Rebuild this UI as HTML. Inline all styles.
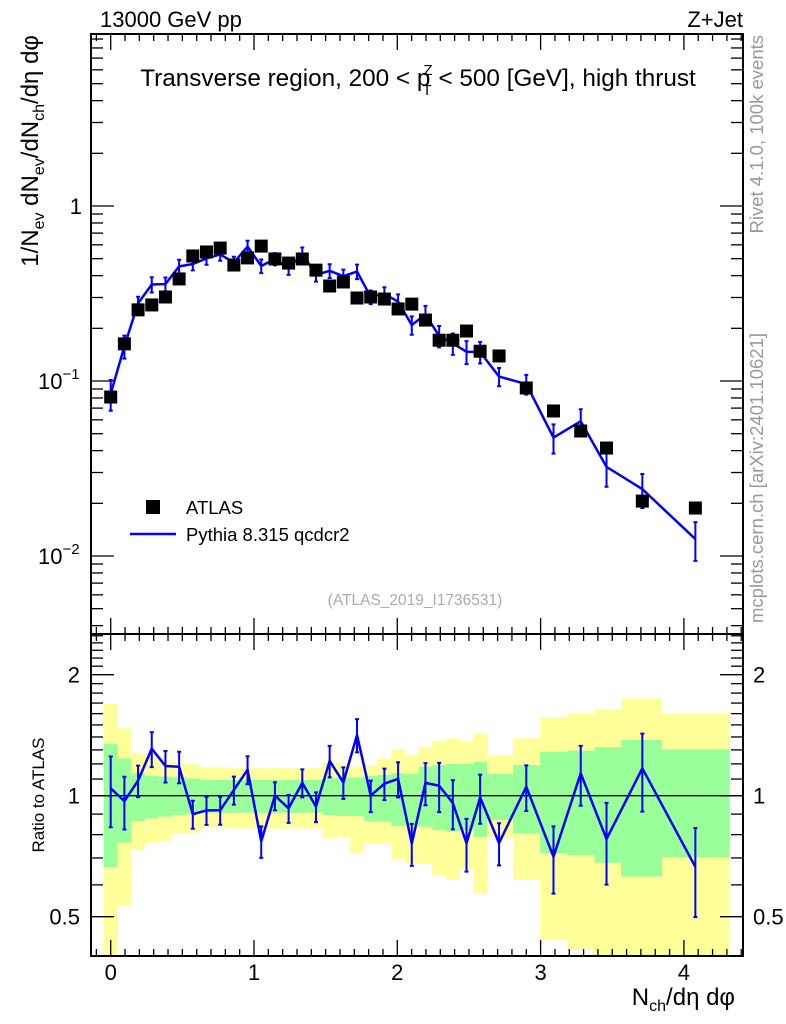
<!DOCTYPE html>
<html><head><meta charset="utf-8"><style>
html,body{margin:0;padding:0;background:#fff;}
svg{display:block;font-family:"Liberation Sans",sans-serif;}
</style></head><body>
<svg id="c" width="786" height="1024" viewBox="0 0 786 1024" xmlns="http://www.w3.org/2000/svg">
<text x="100" y="27" font-size="22">13000 GeV pp</text>
<text x="743" y="27" font-size="22" text-anchor="end">Z+Jet</text>
<text x="418" y="86" font-size="24.3" text-anchor="middle">Transverse region, 200 &lt; p<tspan font-size="15" dy="-11" dx="-7">Z</tspan><tspan font-size="15" dy="20" dx="-10">T</tspan><tspan dy="-9"> &lt; 500 [GeV], high thrust</tspan></text>
<text transform="translate(38,35) rotate(-90)" font-size="24" text-anchor="end">1/N<tspan font-size="16" dy="6">ev</tspan><tspan dy="-6"> dN</tspan><tspan font-size="16" dy="6">ev</tspan><tspan dy="-6">/dN</tspan><tspan font-size="16" dy="6">ch</tspan><tspan dy="-6">/dη dφ</tspan></text>
<text transform="translate(763,35) rotate(-90)" font-size="18.5" fill="#999" text-anchor="end">Rivet 4.1.0,  100k events</text>
<text transform="translate(763,333) rotate(-90)" font-size="18.5" fill="#999" text-anchor="end">mcplots.cern.ch [arXiv:2401.10621]</text>
<text x="415" y="605" font-size="15.5" fill="#aaa" text-anchor="middle">(ATLAS_2019_I1736531)</text>
<text transform="translate(44,795) rotate(-90)" font-size="17" text-anchor="middle">Ratio to ATLAS</text>
<text x="735" y="1005" font-size="24" text-anchor="end">N<tspan font-size="16" dy="6">ch</tspan><tspan dy="-6">/dη dφ</tspan></text>
<rect x="146" y="500" width="14" height="14" fill="#000"/>
<text x="186" y="514" font-size="18.5">ATLAS</text>
<line x1="130" y1="534" x2="176" y2="534" stroke="#0000ff" stroke-width="2.5"/>
<text x="186" y="541" font-size="18.5">Pythia 8.315 qcdcr2</text>
<g id="g"></g>
</svg>
<script>
const xs=[0,0.0955,0.191,0.2865,0.382,0.4775,0.573,0.6685,0.764,0.8595,0.955,1.0505,1.146,1.2415,1.337,1.4325,1.528,1.6235,1.719,1.8145,1.91,2.0055,2.101,2.1965,2.292,2.3875,2.483,2.578,2.71,2.90,3.09,3.28,3.46,3.71,4.08];
const edges=[-0.048,0.048,0.143,0.239,0.334,0.43,0.525,0.621,0.716,0.812,0.907,1.003,1.098,1.194,1.289,1.385,1.48,1.576,1.671,1.767,1.862,1.958,2.053,2.149,2.244,2.34,2.435,2.531,2.626,2.808,2.997,3.186,3.376,3.561,3.847,4.32];
const atlas=[0.081,0.163,0.255,0.272,0.302,0.383,0.518,0.546,0.575,0.46,0.505,0.59,0.498,0.472,0.498,0.43,0.349,0.368,0.298,0.302,0.294,0.258,0.275,0.223,0.171,0.171,0.193,0.148,0.139,0.0912,0.0674,0.0518,0.0414,0.0206,0.0188];
const mc=[0.0845,0.158,0.278,0.356,0.358,0.452,0.466,0.502,0.529,0.475,0.586,0.454,0.498,0.439,0.536,0.404,0.426,0.397,0.422,0.302,0.315,0.284,0.209,0.240,0.181,0.164,0.147,0.1465,0.106,0.096,0.0475,0.0589,0.0323,0.0241,0.0125];
const mcErr=[0.2,0.15,0.09,0.1,0.09,0.09,0.08,0.08,0.08,0.08,0.08,0.09,0.08,0.08,0.08,0.085,0.09,0.09,0.095,0.09,0.09,0.1,0.12,0.12,0.14,0.14,0.15,0.14,0.12,0.13,0.19,0.17,0.23,0.22,0.25];
const gUp=[1.344,1.238,1.137,1.119,1.115,1.111,1.104,1.094,1.094,1.094,1.094,1.094,1.094,1.094,1.094,1.094,1.104,1.111,1.111,1.119,1.126,1.137,1.132,1.181,1.192,1.199,1.199,1.215,1.132,1.192,1.287,1.294,1.32,1.376,1.304];
const gDn=[0.664,0.764,0.865,0.878,0.887,0.895,0.90,0.907,0.907,0.907,0.907,0.907,0.907,0.907,0.907,0.907,0.895,0.89,0.89,0.865,0.862,0.84,0.845,0.837,0.821,0.814,0.821,0.79,0.87,0.806,0.719,0.712,0.681,0.629,0.703];
const yUp=[1.69,1.47,1.27,1.238,1.227,1.208,1.199,1.176,1.176,1.17,1.17,1.17,1.17,1.17,1.17,1.17,1.208,1.208,1.181,1.192,1.238,1.304,1.262,1.324,1.37,1.389,1.362,1.43,1.262,1.389,1.566,1.597,1.64,1.746,1.60];
const yDn=[0.40,0.532,0.733,0.764,0.773,0.803,0.809,0.834,0.834,0.829,0.829,0.829,0.829,0.829,0.829,0.829,0.783,0.79,0.719,0.761,0.761,0.695,0.679,0.679,0.635,0.617,0.654,0.572,0.79,0.617,0.437,0.415,0.40,0.40,0.40];
const xTicks=[0,1,2,3,4];
const mainTicks=[{v:1,t:"1"},{v:0.1,t:"10",e:"−1"},{v:0.01,t:"10",e:"−2"}];
const ratioTicks=[{v:2,t:"2"},{v:1,t:"1"},{v:0.5,t:"0.5"}];

const L=91,R=743,T=34,MB=634,RB=956;
const X=v=>110.7+143.3*v;
const Ym=v=>206-175*Math.log10(v);
const Yr=v=>Math.min(RB,Math.max(MB,795.7-121*Math.log2(v)));
const g=document.getElementById('g');
const NS='http://www.w3.org/2000/svg';
function mk(tag,at){const e=document.createElementNS(NS,tag);for(const k in at)e.setAttribute(k,at[k]);g.appendChild(e);return e;}

for(let i=0;i<xs.length;i++){
  const x0=X(edges[i]),x1=X(edges[i+1]);
  const y=mk('rect',{x:x0,y:Yr(yUp[i]),width:x1-x0,height:Yr(yDn[i])-Yr(yUp[i]),fill:'#ffff99'});
  
  
}
for(let i=0;i<xs.length;i++){
  const x0=X(edges[i]),x1=X(edges[i+1]);
  const r=mk('rect',{x:x0,y:Yr(gUp[i]),width:x1-x0,height:Yr(gDn[i])-Yr(gUp[i]),fill:'#99ff99'});
  
  
}
const one=mk('line',{x1:L,x2:R,y1:Yr(1),y2:Yr(1),stroke:'#000','stroke-width':1.3});



[[T,MB],[MB,RB]].forEach(([a,b],k)=>{
  const f=mk('rect',{x:L,y:a,width:R-L,height:b-a,fill:'none',stroke:'#000','stroke-width':2});
  
  
});
for(let v=-0.1;v<=4.41;v+=0.1){
  const vv=Math.round(v*10)/10; if(vv<-0.12)continue;
  const x=X(vv); if(x<L||x>R)continue;
  const maj=Math.abs(vv-Math.round(vv))<1e-6;
  const len=maj?16:7;
  [[T,1],[MB,-1],[MB,1],[RB,-1]].forEach(([y0,d])=>mk('line',{x1:x,x2:x,y1:y0,y2:y0+d*len,stroke:'#000','stroke-width':1.3}));
}
xTicks.forEach(v=>{const t=mk('text',{x:X(v),y:980,'font-size':22,'text-anchor':'middle'});t.textContent=v;

});
for(let d=-3;d<=0;d++)for(let m=1;m<=9;m++){
  const v=m*Math.pow(10,d);const y=Ym(v);if(y<T||y>MB)continue;
  const len=m===1?23:12;
  mk('line',{x1:L,x2:L+len,y1:y,y2:y,stroke:'#000','stroke-width':1.3});
  mk('line',{x1:R,x2:R-len,y1:y,y2:y,stroke:'#000','stroke-width':1.3});
}
mainTicks.forEach(o=>{const t=mk('text',{x:82,y:Ym(o.v)+8,'font-size':22,'text-anchor':'end'});
t.textContent=o.t;if(o.e){const s=document.createElementNS(NS,'tspan');s.setAttribute('font-size',15);s.setAttribute('dy',-10);s.textContent=o.e;t.appendChild(s);t.setAttribute('x',38);t.setAttribute('text-anchor','start');}

});
[0.4,0.5,0.6,0.7,0.8,0.9,1,1.1,1.2,1.3,1.4,1.5,1.6,1.7,1.8,1.9,2,2.1,2.2,2.3,2.4,2.5].forEach(v=>{
  const y=Yr(v);if(y<=MB+1||y>=RB-1)return;const maj=[0.5,1,2].includes(v);const len=maj?23:12;
  mk('line',{x1:L,x2:L+len,y1:y,y2:y,stroke:'#000','stroke-width':1.3});
  mk('line',{x1:R,x2:R-len,y1:y,y2:y,stroke:'#000','stroke-width':1.3});
});
ratioTicks.forEach(o=>{[[80,'end'],[753,'start']].forEach(([x,a])=>{const t=mk('text',{x:x,y:Yr(o.v)+8,'font-size':22,'text-anchor':a});t.textContent=o.t;

});});

const pm=mk('polyline',{points:xs.map((x,i)=>X(x)+','+Ym(mc[i])).join(' '),fill:'none',stroke:'#0000ff','stroke-width':2.5});


xs.forEach((x,i)=>{const cx=X(x);const y1=Ym(mc[i]*(1+mcErr[i])),y2=Ym(mc[i]*(1-mcErr[i]));
  const e=mk('path',{d:`M${cx},${y1}V${y2}M${cx-2},${y1}h4M${cx-2},${y2}h4`,stroke:'#0000ff','stroke-width':2,fill:'none'});
  
  });
xs.forEach((x,i)=>{const r=mk('rect',{x:X(x)-6.5,y:Ym(atlas[i])-6.5,width:13,height:13,fill:'#000'});
  
  });
const ratio=mc.map((m,i)=>m/atlas[i]);
const pr=mk('polyline',{points:xs.map((x,i)=>X(x)+','+Yr(ratio[i])).join(' '),fill:'none',stroke:'#0000ff','stroke-width':2.5});


xs.forEach((x,i)=>{const cx=X(x);const y1=Yr(ratio[i]*(1+mcErr[i])),y2=Yr(ratio[i]*(1-mcErr[i]));
  const e=mk('path',{d:`M${cx},${y1}V${y2}M${cx-2},${y1}h4M${cx-2},${y2}h4`,stroke:'#0000ff','stroke-width':2,fill:'none'});
  
  });
</script>
</body></html>
